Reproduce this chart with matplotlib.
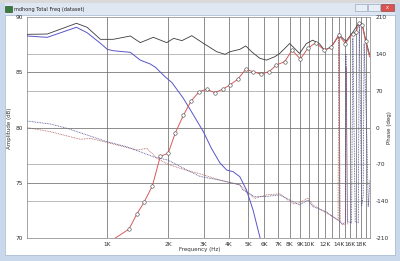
import matplotlib
matplotlib.use("Agg")
import matplotlib.pyplot as plt
from matplotlib.patches import Rectangle
import numpy as np

# ---- data ----
total_f = [400, 504, 703, 794, 924, 1070, 1300, 1455, 1690, 1970, 2130, 2340, 2620, 2990,
           3480, 3830, 4050, 4530, 4850, 5180, 5690, 6140, 6740, 7140, 8000, 8450, 8950,
           9690, 10400, 11260, 11900, 12850, 14100, 15200, 16400, 17700, 18300, 19000, 19900]
total_db = [88.43, 88.46, 89.43, 89.07, 87.98, 87.98, 88.28, 87.68, 88.16, 87.68, 88.07, 87.86,
            88.31, 87.62, 86.86, 86.62, 86.86, 87.07, 87.38, 86.86, 86.26, 86.10, 86.40, 86.70,
            87.60, 87.17, 86.70, 87.60, 87.90, 87.56, 87.00, 87.30, 88.37, 87.80, 88.60, 89.50,
            89.35, 88.00, 86.60]

woofer_f = [400, 504, 703, 794, 924, 1000, 1070, 1300, 1455, 1630, 1730, 1930, 2090, 2380,
            2670, 2990, 3280, 3610, 3900, 4200, 4530, 4890, 5270, 5580, 5750]
woofer_db = [88.28, 88.16, 89.07, 88.58, 87.62, 87.07, 86.95, 86.80, 86.10, 85.75, 85.45, 84.60,
             84.06, 82.64, 81.13, 79.62, 78.10, 76.80, 76.15, 76.00, 75.55, 74.34, 72.53, 70.72,
             69.80]

tweeter_f = [1095, 1280, 1400, 1520, 1670, 1830, 2000, 2170, 2380, 2600, 2850, 3100, 3410, 3720,
             4050, 4420, 4850, 5270, 5740, 6320, 6880, 7560, 8220, 9040, 9850, 10760, 11900,
             12850, 14000, 15100, 16400, 17000, 17700, 18300, 19000, 19900]
tweeter_db = [70.0, 70.8, 72.17, 73.23, 74.7, 77.4, 77.66, 79.5, 81.1, 82.4, 83.24, 83.46, 83.15,
              83.46, 83.85, 84.36, 85.27, 85.05, 84.84, 85.05, 85.66, 85.96, 87.0, 86.2, 87.17,
              87.68, 87.0, 87.25, 88.37, 87.6, 88.5, 88.6, 89.43, 89.28, 87.8, 86.4]

phase_a_f = [400, 523, 633, 794, 997, 1250, 1450, 1690, 2000, 2400, 2880, 3610, 4530, 4710,
             5370, 6140, 7140, 8320, 8950, 9840, 10400, 12100, 13900, 14500, 15100, 15200,
             15450, 16200, 16450, 16900, 17500, 17700, 18200, 18500, 18700, 19300, 19600, 20000]
phase_a_deg = [12.3, 6.6, -1.6, -14.3, -27, -36.6, -46, -55.6, -62, -78, -93, -100, -109, -119,
               -131.6, -131, -128, -141, -147, -138, -150, -160, -176, -183, -181, 140,
               -178, -182, 170, -179, -181, 195, -148, -130, 160, -20, -150, -100]

phase_b_f = [400, 523, 736, 824, 1035, 1400, 1570, 1760, 2000, 2400, 2880, 3610, 4530, 5000,
             5370, 6140, 7140, 8320, 8950, 9840, 10400, 12100, 13900, 14000, 14250, 14700,
             15100, 15250, 15500]
phase_b_deg = [0, -8, -22.5, -20.6, -30, -43, -39.6, -58.6, -70, -80, -88, -100, -109, -125,
               -135, -128, -126, -145, -143, -134, -147, -162, -176, 178, -178, -185,
               -183, 115, -185]

amp_ticks = [70, 75, 80, 85, 90]
phase_ticks = [-210, -140, -70, 0, 70, 140, 210]
freq_labels = ["1K", "2K", "3K", "4K", "5K", "6K", "7K", "8K", "9K", "10K", "12K", "14K", "16K", "18K"]
freq_label_vals = [1000, 2000, 3000, 4000, 5000, 6000, 7000, 8000, 9000, 10000, 12000, 14000, 16000, 18000]
grid_freqs = list(range(1000, 20000, 1000))

# ---- figure / window chrome ----
W, H = 400, 261
fig = plt.figure(figsize=(W / 100, H / 100), dpi=100)
fig.patch.set_facecolor("white")

def px_rect(x, y, w, h, **kw):
    fig.patches.append(Rectangle((x / W, 1 - (y + h) / H), w / W, h / H,
                                 transform=fig.transFigure, figure=fig, zorder=-10, **kw))

px_rect(0, 0, 400, 3, facecolor="#d9d9d9", edgecolor="none")
px_rect(0, 3, 400, 13, facecolor="#dfe8f2", edgecolor="none")
px_rect(0, 3, 5, 258, facecolor="#c9d8ea", edgecolor="none")
px_rect(395, 3, 5, 258, facecolor="#c9d8ea", edgecolor="none")
px_rect(0, 255, 400, 6, facecolor="#c9d8ea", edgecolor="none")
px_rect(5, 15, 390, 240, facecolor="white", edgecolor="#a0b4cc", linewidth=0.5)
# icon + buttons
px_rect(5, 6, 7, 6, facecolor="#3a7a3a", edgecolor="#204020", linewidth=0.4)
px_rect(355, 4, 12, 7, facecolor="#e8eef6", edgecolor="#8a9ab0", linewidth=0.4)
px_rect(368, 4, 12, 7, facecolor="#e8eef6", edgecolor="#8a9ab0", linewidth=0.4)
px_rect(381, 4, 13, 7, facecolor="#d9534f", edgecolor="#8a3030", linewidth=0.4)
fig.text(14 / W, 1 - 9.5 / H, "mdhong Total Freq (dataset)", fontsize=3.6, va="center",
         ha="left", color="#202020")
fig.text(387.5 / W, 1 - 7.5 / H, "x", fontsize=3.5, va="center", ha="center", color="white")

# ---- axes ----
ax = fig.add_axes([27 / W, 1 - 238 / H, 343 / W, 221 / H])
ax2 = ax.twinx()
ax.set_zorder(2)
ax2.set_zorder(1)
ax.patch.set_visible(False)
ax2.patch.set_facecolor("#c0c0c0")

ax.set_xscale("log")
ax.set_xlim(400, 20000)
ax.set_ylim(70, 90)

for p in [-140, -70, 70, 140]:
    ax2.axhline(p, color="#a8a8a8", lw=0.55, zorder=0)
for f in grid_freqs:
    ax2.axvline(f, color="#6e6e6e", lw=0.55, zorder=1)
for a in amp_ticks[1:-1]:
    ax.axhline(a, color="#6e6e6e", lw=0.55, zorder=1)

ax2.set_ylim(-210, 210)
ax2.plot(phase_b_f, phase_b_deg, color="#b25c5c", lw=0.6, ls=(0, (1, 1)), zorder=3)
ax2.plot(phase_a_f, phase_a_deg, color="#4c4c90", lw=0.6, ls=(0, (1, 1)), zorder=3)

ax.plot(total_f, total_db, color="#3c3c3c", lw=0.6, zorder=4)
ax.plot(woofer_f, woofer_db, color="#5a55c8", lw=0.7, zorder=4)
ax.plot(tweeter_f, tweeter_db, color="#d85a5a", lw=0.7, zorder=5,
        marker="o", markersize=2.5, markerfacecolor="white", markeredgecolor="#404040",
        markeredgewidth=0.4, markevery=list(range(1, len(tweeter_f) - 1)))

ax.set_xticks(freq_label_vals)
ax.set_xticklabels(freq_labels)
ax.xaxis.set_minor_locator(matplotlib.ticker.NullLocator())
ax.set_yticks(amp_ticks)
ax.set_yticklabels([str(v) for v in amp_ticks])
ax.tick_params(axis="both", length=0, labelsize=4.2, colors="#303030", pad=3)
for s in ax.spines.values():
    s.set_color("#808080")
    s.set_linewidth(0.5)

ax2.set_yticks(phase_ticks)
ax2.set_yticklabels([str(v) for v in phase_ticks])
ax2.tick_params(axis="y", length=0, labelsize=4.2, colors="#303030", pad=4)
for s in ax2.spines.values():
    s.set_visible(False)

fig.text(10 / W, 1 - 128 / H, "Amplitude (dB)", rotation=90, fontsize=4.0, va="center",
         ha="center", color="#303030")
fig.text(390 / W, 1 - 128 / H, "Phase (deg)", rotation=90, fontsize=4.0, va="center",
         ha="center", color="#303030")
fig.text(200 / W, 1 - 250 / H, "Frequency (Hz)", fontsize=4.0, va="center", ha="center",
         color="#303030")

fig.savefig("out.png", dpi=100)
